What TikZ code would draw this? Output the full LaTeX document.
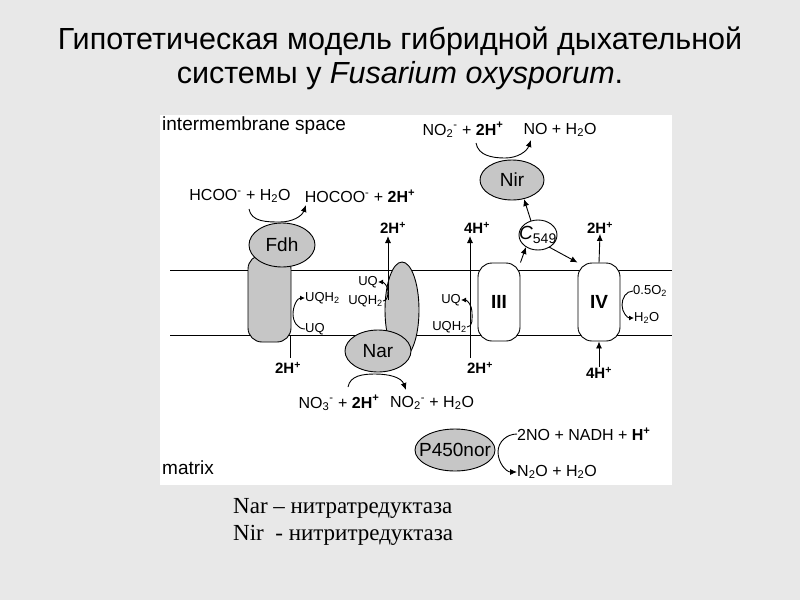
\documentclass[tikz,border=0pt]{standalone}
\usepackage{fontspec}
\setmainfont{Liberation Sans}
\newfontfamily\serifcyr{Liberation Serif}
\usetikzlibrary{arrows.meta,shapes.geometric}
\begin{document}
\begin{tikzpicture}[x=1pt,y=-1pt,
  lab/.style={font=\fontsize{16}{18}\selectfont,inner sep=0pt},
  hlab/.style={font=\bfseries\fontsize{15}{17}\selectfont,inner sep=0pt},
  slab/.style={font=\fontsize{13}{15}\selectfont,inner sep=0pt},
  pname/.style={font=\fontsize{19}{21}\selectfont,inner sep=0pt},
  prot/.style={draw,fill=gray!45,line width=0.9pt},
  wprot/.style={draw,fill=white,line width=0.9pt},
  arr/.style={-{Latex[length=7pt,width=6pt]},line width=0.9pt},
  sarr/.style={-{Latex[length=5pt,width=5pt]},line width=0.9pt},
  ln/.style={line width=0.9pt}]
\useasboundingbox (0,0) rectangle (800,600);
\fill[gray!18] (0,0) rectangle (800,600);
\fill[white] (160,115) rectangle (672,485);
\node[font=\fontsize{30.5}{34}\selectfont,align=center] (title) at (400,58) {Гипотетическая модель гибридной дыхательной\\системы у \textit{Fusarium oxysporum}.};
\node[anchor=west,inner sep=0pt,font=\fontsize{19}{21}\selectfont] (ims) at (162,126) {intermembrane space};
\node[anchor=west,inner sep=0pt,font=\fontsize{19}{21}\selectfont] (mat) at (162,468) {matrix};
% membrane
\draw[ln] (170,270) -- (672,270);
\draw[ln] (170,335) -- (672,335);
% Fdh
\draw[prot,rounded corners=14pt] (248,255) rectangle (291,342);
\draw[prot] (282,245) ellipse [x radius=33,y radius=22];
\node[pname] (fdh) at (282,245) {Fdh};
% Nar
\draw[prot] (402,310) ellipse [x radius=17,y radius=48];
\draw[prot] (378,351) ellipse [x radius=33,y radius=21];
\node[pname] (nar) at (378,351) {Nar};
% III and IV
\node[wprot,rounded corners=14pt,minimum width=42pt,minimum height=78pt,font=\bfseries\fontsize{19}{21}\selectfont] (c3) at (499,302) {III};
\node[wprot,rounded corners=14pt,minimum width=42pt,minimum height=78pt,font=\bfseries\fontsize{19}{21}\selectfont] (c4) at (599,302) {IV};
% C549, Nir, P450
\draw[wprot] (538,235) ellipse [x radius=19,y radius=15];
\node[inner sep=0pt,font=\itshape\fontsize{19}{21}\selectfont] (cyt) at (538,235) {C\textsubscript{\upshape\fontsize{14}{16}\selectfont 549}};
\draw[prot] (512,180) ellipse [x radius=32,y radius=20];
\node[pname] (nir) at (512,180) {Nir};
\draw[prot] (455,450) ellipse [x radius=40,y radius=21];
\node[pname] (p450) at (455,450) {P450nor};
\coordinate (cytsw) at (526,247);
\coordinate (cytse) at (549,247);
\coordinate (cytn) at (531,221);
\coordinate (nirs) at (524,199);
\draw[arr] (c3.north east) -- (cytsw);
\draw[arr] (cytse) -- (c4.north west);
\draw[arr] (cytn) -- (nirs);
% proton lines
\node[hlab] (h1) at (288,368) {2H\textsuperscript{+}};
\coordinate (h1t) at (290,335);
\coordinate (h1b) at (290,358);
\draw[ln] (h1t) -- (h1b);
\node[hlab] (h2) at (393,228) {2H\textsuperscript{+}};
\coordinate (h2b) at (388,300);
\coordinate (h2t) at (388,236);
\draw[arr] (h2b) -- (h2t);
\node[hlab] (h3) at (477,228) {4H\textsuperscript{+}};
\node[hlab] (h4) at (480,368) {2H\textsuperscript{+}};
\coordinate (h3b) at (470,358);
\coordinate (h3t) at (470,236);
\draw[arr] (h3b) -- (h3t);
\node[hlab] (h5) at (600,228) {2H\textsuperscript{+}};
\draw[arr] (c4.north) -- (h5.south);
\node[hlab] (h6) at (599,373) {4H\textsuperscript{+}};
\draw[arr] (h6.north) -- (c4.south);
% UQ cycles
\node[slab,anchor=west] (uqh2a) at (305,298) {UQH\textsubscript{2}};
\node[slab,anchor=west] (uqa) at (305,329) {UQ};
\draw[sarr] (uqa.west) to[out=180,in=-90] (293,314) to[out=90,in=180] (uqh2a.west);
\node[slab,anchor=east] (uqb) at (378,282) {UQ};
\node[slab,anchor=east] (uqh2b) at (383,301) {UQH\textsubscript{2}};
\draw[sarr] (uqh2b.east) to[out=0,in=-90] (388,291) to[out=90,in=0] (uqb.east);
\node[slab,anchor=east] (uqc) at (461,300) {UQ};
\node[slab,anchor=east] (uqh2c) at (467,327) {UQH\textsubscript{2}};
\draw[sarr] (uqh2c.east) to[out=0,in=-90] (472,312) to[out=90,in=0] (uqc.east);
\node[slab,anchor=west] (o2) at (633,291) {0.5O\textsubscript{2}};
\node[slab,anchor=west] (h2o4) at (634,318) {H\textsubscript{2}O};
\draw[sarr] (o2.west) to[out=180,in=90] (622,305) to[out=-90,in=180] (h2o4.west);
% Fdh reaction
\node[lab] (r1a) at (240,196) {HCOO\textsuperscript{-} + H\textsubscript{2}O};
\node[lab] (r1b) at (360,196) {HOCOO\textsuperscript{-} + \textbf{2H\textsuperscript{+}}};
\draw[arr] (249,209) to[out=-80,in=180] (280,222) to[out=0,in=-110] (306,205);
% Nir reaction
\node[lab] (r2a) at (463,130) {NO\textsubscript{2}\textsuperscript{-} + \textbf{2H\textsuperscript{+}}};
\node[lab] (r2b) at (560,130) {NO + H\textsubscript{2}O};
\draw[arr] (476,143) to[out=-80,in=180] (505,158) to[out=0,in=-110] (531,140);
% Nar reaction
\node[lab] (r3a) at (339,403) {NO\textsubscript{3}\textsuperscript{-} + \textbf{2H\textsuperscript{+}}};
\node[lab] (r3b) at (432,403) {NO\textsubscript{2}\textsuperscript{-} + H\textsubscript{2}O};
\draw[arr] (348,387) to[out=80,in=180] (375,374) to[out=0,in=110] (406,390);
% P450 reaction
\node[lab,anchor=west] (r4a) at (517,434) {2NO + NADH + \textbf{H\textsuperscript{+}}};
\node[lab,anchor=west] (r4b) at (517,472) {N\textsubscript{2}O + H\textsubscript{2}O};
\draw[arr] (r4a.west) to[out=180,in=90] (498,452) to[out=-90,in=180] (r4b.west);
% legend
\node[anchor=west,inner sep=0pt,font=\serifcyr\fontsize{23}{26}\selectfont] (l1) at (233,508) {Nar – нитратредуктаза};
\node[anchor=west,inner sep=0pt,font=\serifcyr\fontsize{23}{26}\selectfont] (l2) at (233,535) {Nir~~- нитритредуктаза};
\end{tikzpicture}
\end{document}
